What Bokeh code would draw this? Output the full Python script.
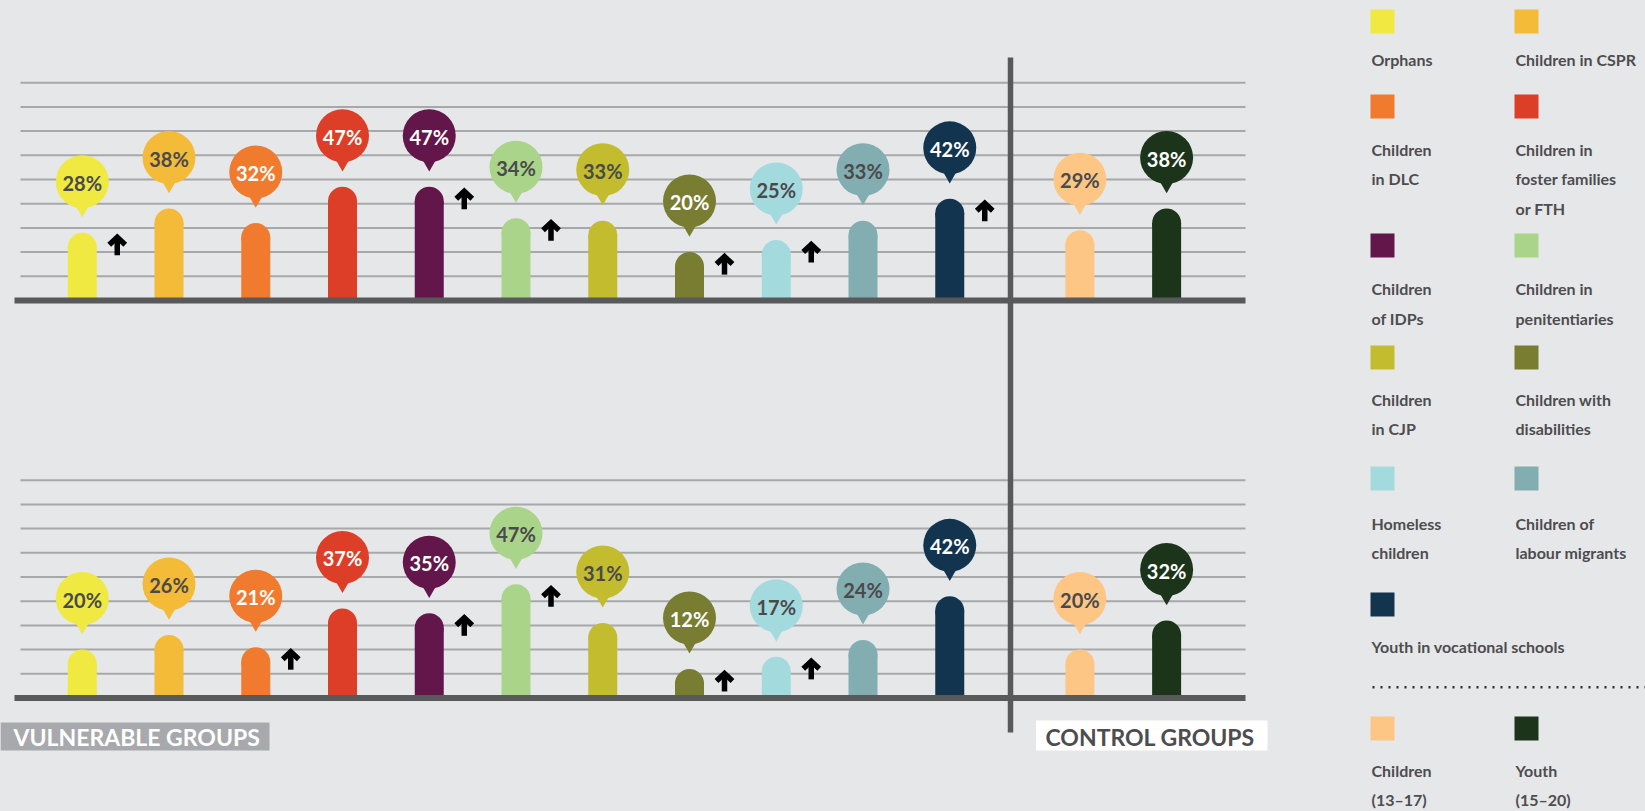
from bokeh.plotting import figure
from bokeh.models import Range1d, ColumnDataSource
from bokeh.core.properties import value
from bokeh.embed import file_html
from bokeh.resources import INLINE

# ---------------- data ----------------
groups = ["Orphans", "Children in CSPR", "Children in DLC",
          "Children in foster families or FTH", "Children of IDPs",
          "Children in penitentiaries", "Children in CJP",
          "Children with disabilities", "Homeless children",
          "Children of labour migrants", "Youth in vocational schools",
          "Children (13–17)", "Youth (15–20)"]
legend_labels = ["Orphans", "Children in CSPR", "Children\n in DLC",
                 "Children in\nfoster families\nor FTH", "Children\nof IDPs",
                 "Children in\npenitentiaries", "Children\n in CJP",
                 "Children with\ndisabilities", "Homeless\nchildren",
                 "Children of\nlabour migrants", "Youth in vocational schools",
                 "Children\n(13–17)", "Youth\n(15–20)"]
is_control = [False] * 11 + [True] * 2
top_values = [28, 38, 32, 47, 47, 34, 33, 20, 25, 33, 42, 29, 38]
bottom_values = [20, 26, 21, 37, 35, 47, 31, 12, 17, 24, 42, 20, 32]
top_arrows = [True, False, False, False, True, True, False, True, True, False, True, False, False]
bottom_arrows = [False, False, True, False, True, True, False, True, True, False, False, False, False]
grid_levels = [10, 20, 30, 40, 50, 60, 70, 80, 90]

# ---------------- styles ----------------
colors = ["#EFE941", "#F3BB38", "#F07B2E", "#DD3E27", "#62164A", "#A9D489",
          "#C3BC2E", "#787D32", "#A3DADE", "#82ADB1", "#12344F", "#FDC684", "#1C3419"]
text_colors = ["#4A4A4C", "#4A4A4C", "#FFFFFF", "#FFFFFF", "#FFFFFF", "#4A4A4C",
               "#4A4A4C", "#FFFFFF", "#4A4A4C", "#4A4A4C", "#FFFFFF", "#4A4A4C", "#FFFFFF"]
BG = "#E6E7E9"
GRID = "#A7A8AA"
DARK = "#58595B"
LEG_TXT = "#4D4D4F"
FONT = "Lato"

# ---------------- layout (page pixels) ----------------
W, H = 1645, 811
X0, DX = 81.75, 86.75      # page x of slot 0 and px per slot
PXU = 2.42                 # px per percentage point
TOP_ZERO, BOT_ZERO = 300.0, 697.5

slots = [i + (0.5 if c else 0.0) for i, c in enumerate(is_control)]

p = figure(width=W, height=H, output_backend="svg", toolbar_location=None,
           x_axis_type=None, y_axis_type=None,
           x_range=Range1d(0, W), y_range=Range1d(H, 0),
           min_border=0, min_border_left=0, min_border_right=0,
           min_border_top=0, min_border_bottom=0,
           background_fill_color=BG, border_fill_color=BG,
           outline_line_color=None)
p.extra_x_ranges = {"slot": Range1d((0 - X0) / DX, (W - X0) / DX)}
p.extra_y_ranges = {
    "top": Range1d((TOP_ZERO - H) / PXU, TOP_ZERO / PXU),
    "bot": Range1d((BOT_ZERO - H) / PXU, BOT_ZERO / PXU),
}

r_cap = 14.5 / PXU          # rounded-top radius in value units
bar_w = 29 / DX

for rng, vals, arrows in (("top", top_values, top_arrows), ("bot", bottom_values, bottom_arrows)):
    # grid lines
    p.segment(x0=20, x1=1245, y0=grid_levels, y1=grid_levels, y_range_name=rng,
              line_color=GRID, line_width=2)
    src = ColumnDataSource(dict(
        x=slots, v=vals, c=colors, tc=text_colors,
        body=[v - r_cap for v in vals],
        bubble=[v + 51 / PXU for v in vals],
        pin=[v + (51 - 23.5) / PXU for v in vals],
        lab=[f"{v}%" for v in vals],
    ))
    p.vbar(x="x", width=bar_w, bottom=0, top="body", fill_color="c", line_color=None,
           source=src, x_range_name="slot", y_range_name=rng)
    p.scatter(x="x", y="body", size=29, marker="circle", fill_color="c", line_color=None,
              source=src, x_range_name="slot", y_range_name=rng)
    # baseline
    p.segment(x0=[14], x1=[1245], y0=[0], y1=[0], y_range_name=rng,
              line_color=DARK, line_width=6)
    # bubbles
    p.scatter(x="x", y="pin", size=21, marker="inverted_triangle", fill_color="c",
              line_color=None, source=src, x_range_name="slot", y_range_name=rng)
    p.scatter(x="x", y="bubble", size=53, marker="circle", fill_color="c",
              line_color=None, source=src, x_range_name="slot", y_range_name=rng)
    p.text(x="x", y="bubble", text="lab", text_color="tc", text_font=value(FONT),
           text_font_style="bold", text_font_size="20px", text_align="center",
           text_baseline="middle", y_offset=1, source=src,
           x_range_name="slot", y_range_name=rng)
    # up arrows
    xs, ys = [], []
    for s, v, a in zip(slots, vals, arrows):
        if not a:
            continue
        xa = s + 35 / DX
        c = v - 12 / PXU
        xs.append([xa, xa])
        ys.append([c - 10.5 / PXU, c + 7 / PXU])
        xs.append([xa - 8 / DX, xa, xa + 8 / DX])
        ys.append([c + 0 / PXU, c + 7.5 / PXU, c + 0 / PXU])
    p.multi_line(xs=xs, ys=ys, line_color="black", line_width=5.5, line_join="miter",
                 x_range_name="slot", y_range_name=rng)

# vertical divider
p.segment(x0=[1010], x1=[1010], y0=[57], y1=[732], line_color=DARK, line_width=5.5)

# group labels
p.quad(left=[0], right=[269], top=[722], bottom=[750], fill_color="#A7A9AC", line_color=None)
p.text(x=[13], y=[736.5], text=["VULNERABLE GROUPS"], text_color="white",
       text_font=value(FONT), text_font_style="bold", text_font_size="23px",
       text_baseline="middle")
p.quad(left=[1035.5], right=[1267], top=[720], bottom=[750], fill_color="white", line_color=None)
p.text(x=[1045], y=[736], text=["CONTROL GROUPS"], text_color=LEG_TXT,
       text_font=value(FONT), text_font_style="bold", text_font_size="23px",
       text_baseline="middle")

# legend
rows = [(0, 1), (2, 3), (4, 5), (6, 7), (8, 9), (10,), (11, 12)]
row_tops = [9, 94, 233, 345, 466, 592, 716]
row_mid = [58.7, 148.7, 288, 398.7, 522.7, 646, 769.7]
col_x = [1370, 1514]
sq_l, sq_r, sq_t, sq_b, sq_c = [], [], [], [], []
tx, ty, tt = [], [], []
for (items, top, mid) in zip(rows, row_tops, row_mid):
    for ci, idx in enumerate(items):
        sq_l.append(col_x[ci]); sq_r.append(col_x[ci] + 24)
        sq_t.append(top); sq_b.append(top + 24); sq_c.append(colors[idx])
        for li, line in enumerate(legend_labels[idx].split("\n")):
            tx.append(col_x[ci] + 1); ty.append(mid + 29.5 * li); tt.append(line)
p.quad(left=sq_l, right=sq_r, top=sq_t, bottom=sq_b, fill_color=sq_c, line_color=None)
p.text(x=tx, y=ty, text=tt, text_color=LEG_TXT, text_font=value(FONT),
       text_font_style="bold", text_font_size="16px", text_baseline="middle")
p.segment(x0=[1372], x1=[1645], y0=[686.7], y1=[686.7], line_color="#2B2B2B",
          line_width=2.5, line_dash="2 6")

html = file_html(p, INLINE)
html = html.replace("<head>", "<head><style>body{background:#E6E7E9;}</style>", 1)
open("out.html", "w").write(html)
